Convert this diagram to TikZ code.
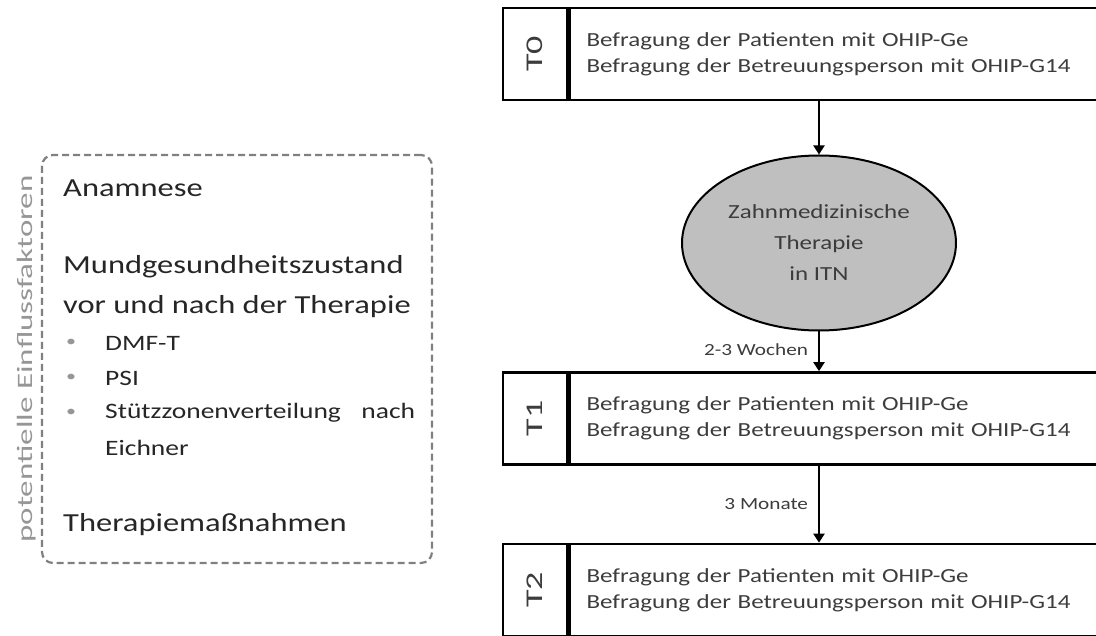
\documentclass[tikz,border=0pt]{standalone}
\usepackage{fontspec}
\setmainfont{Carlito}[FakeStretch=1.25]
\newfontfamily\widefont{Carlito}[FakeStretch=1.5]
\usetikzlibrary{shapes.geometric,arrows.meta,calc}
\definecolor{ellfill}{RGB}{191,191,191}
\definecolor{dashgray}{RGB}{128,128,128}
\definecolor{txtgray}{RGB}{60,60,60}
\definecolor{lblgray}{RGB}{150,150,150}
\newcommand{\fsz}[2]{\fontsize{#1}{#2}\selectfont}

\begin{document}
\begin{tikzpicture}[x=1pt,y=-1pt,
  labcell/.style={draw, line width=2.6pt, minimum width=64pt, minimum height=92pt, inner sep=0,
    font=\widefont\fsz{24}{28}, text=txtgray},
  txtcell/.style={draw, line width=2.6pt, minimum height=92pt, text width=499pt, inner xsep=17pt,
    align=left, font=\fsz{20}{26}, text=txtgray},
  ther/.style={ellipse, draw, line width=2pt, fill=ellfill, minimum width=274pt, minimum height=175pt,
    align=center, font=\fsz{20}{31}, text=txtgray},
  arr/.style={line width=2pt, -{Triangle[width=11pt,length=9pt]}},
  steplbl/.style={left, font=\fsz{17}{20}, text=txtgray, inner xsep=10pt, inner ysep=2pt},
  big/.style={anchor=west, inner sep=0, font=\fsz{26}{30}, text=black!85},
  item/.style={anchor=west, inner sep=0, font=\fsz{22}{26}, text=black!85},
  dot/.style={anchor=west, inner sep=0, font=\fsz{16}{20}, text=lblgray}
]
  \useasboundingbox (0,0) rectangle (1096,636);

  % Zeitpunkte
  \node [labcell] (t0lab) at (535,54) {\rotatebox{90}{T0}};
  \node [txtcell, anchor=west] (t0) at (t0lab.east) {Befragung der Patienten mit OHIP-Ge\\Befragung der Betreuungsperson mit OHIP-G14};
  \node [labcell] (t1lab) at (535,418.5) {\rotatebox{90}{T1}};
  \node [txtcell, anchor=west] (t1) at (t1lab.east) {Befragung der Patienten mit OHIP-Ge\\Befragung der Betreuungsperson mit OHIP-G14};
  \node [labcell] (t2lab) at (535,590) {\rotatebox{90}{T2}};
  \node [txtcell, anchor=west] (t2) at (t2lab.east) {Befragung der Patienten mit OHIP-Ge\\Befragung der Betreuungsperson mit OHIP-G14};

  \node [ther] (itn) at (819,243) {Zahnmedizinische\\Therapie\\in ITN};

  \draw [arr] (t0.south -| itn) -- (itn.north);
  \draw [arr] (itn.south) -- (t1.north -| itn) node [steplbl, pos=0.45] {2-3 Wochen};
  \draw [arr] (t1.south -| itn) -- (t2.north -| itn) node [steplbl, midway] {3 Monate};

  % Einflussfaktoren
  \node [draw=dashgray, line width=2.2pt, dash pattern=on 7pt off 4pt, rounded corners=11pt,
    minimum width=390pt, minimum height=408pt, inner sep=0] (infl) at (237,359) {};
  \node [rotate=90, inner sep=0, font=\widefont\fsz{22}{26}, text=lblgray] (infllab) at (27,359) {potentielle Einflussfaktoren};

  \node [big] (anam) at (63,188) {Anamnese};
  \node [big] (mund) at (63,267) {Mundgesundheitszustand};
  \node [big] (vor) at (63,307) {vor und nach der Therapie};
  \node [dot] at (66,343) {•};
  \node [item] (dmft) at (105,343) {DMF-T};
  \node [dot] at (66,378) {•};
  \node [item] (psi) at (105,378) {PSI};
  \node [dot] at (66,413) {•};
  \node [item] (stz) at (105,413) {\hbox to 310pt{Stützzonenverteilung\hfill nach}};
  \node [item] (eich) at (105,448) {Eichner};
  \node [big] (thm) at (63,525) {Therapiemaßnahmen};
\end{tikzpicture}
\end{document}
